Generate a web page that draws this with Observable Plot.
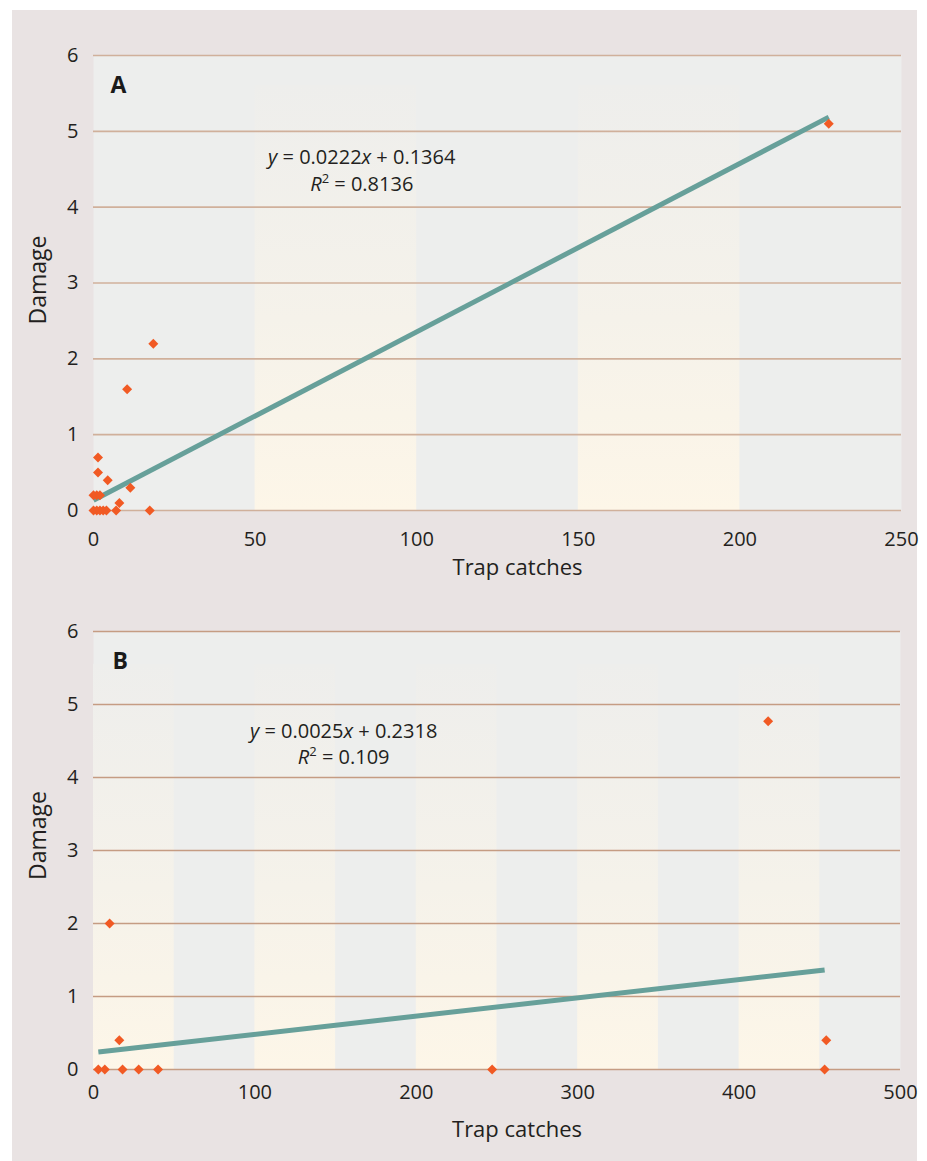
<!DOCTYPE html>
<html><head><meta charset="utf-8">
<script src="https://cdn.jsdelivr.net/npm/d3@7"></script>
<script src="https://cdn.jsdelivr.net/npm/@observablehq/plot@0.6"></script>
<style>
body{margin:0;background:#fff;}
#wrap{position:absolute;left:12px;top:10px;width:905px;height:1151px;background:#e9e3e3;}
#wrap svg{display:block;position:absolute;left:0;}
</style></head><body><div id="wrap"></div>
<script>
// ---- Panel A data ----
const catchesA = [0, 1, 2, 0, 1, 2, 3, 4, 7, 8, 1.4, 1.4, 4.4, 11.4, 10.4, 18.5, 17.4, 227.5];
const damageA  = [0.2, 0.2, 0.2, 0, 0, 0, 0, 0, 0, 0.1, 0.7, 0.5, 0.4, 0.3, 1.6, 2.2, 0, 5.1];
const trendAx  = [0, 227.5];
const trendAy  = [0.136, 5.187];
const ticksAx  = [0, 50, 100, 150, 200, 250];
const bandsA   = [[50, 100], [150, 200]];
const eqA      = ["y = 0.0222x + 0.1364", "R2 = 0.8136"];

// ---- Panel B data ----
const catchesB = [3, 7, 18, 28, 40, 10, 16, 247, 418, 454, 453];
const damageB  = [0, 0, 0, 0, 0, 2, 0.4, 0, 4.77, 0.4, 0];
const trendBx  = [3, 453];
const trendBy  = [0.239, 1.364];
const ticksBx  = [0, 100, 200, 300, 400, 500];
const bandsB   = [[0, 50], [100, 150], [200, 250], [300, 350], [400, 450]];
const eqB      = ["y = 0.0025x + 0.2318", "R2 = 0.109"];

const ticksY = [0, 1, 2, 3, 4, 5, 6];
const FONT = "Open Sans";
const INK = "#231f20";

function panel(o) {
  const pts = o.px.map((x, i) => ({x, y: o.py[i]}));
  const trend = o.tx.map((x, i) => ({x, y: o.ty[i]}));
  const bands = o.bands.map(([a, b]) => ({x1: a, x2: b, y1: 0, y2: o.bandTop}));
  const svg = Plot.plot({
    width: 903, height: o.height,
    marginLeft: 81, marginRight: o.mr, marginTop: o.mt, marginBottom: o.mb,
    style: {fontFamily: FONT, fontSize: "20px", color: INK, background: "transparent", overflow: "visible"},
    x: {domain: o.xDomain, ticks: o.xTicks, tickSize: 0, tickPadding: o.tickPadX, tickFormat: d3.format("d"), label: null},
    y: {domain: [0, 6], ticks: ticksY, tickSize: 0, tickPadding: 15, tickFormat: d3.format("d"), label: null},
    marks: [
      Plot.frame({fill: "#edeeed", stroke: null}),
      Plot.rect(bands, {x1: "x1", x2: "x2", y1: "y1", y2: "y2", fill: `url(#${o.gid})`}),
      Plot.ruleY(ticksY, {stroke: o.grid, strokeWidth: 1.6}),
      Plot.line(trend, {x: "x", y: "y", stroke: "#67a09a", strokeWidth: 5, strokeLinecap: "butt"}),
      Plot.dot(pts, {x: "x", y: "y", symbol: "diamond2", r: 4.5, fill: "#f15a24", stroke: null}),
      Plot.text([o.eq[0]], {x: o.eqX, y: o.eqY[0], text: d => d, fontSize: 20, fill: INK, textAnchor: "middle", lineAnchor: "middle"}),
      Plot.text([o.eq[1]], {x: o.eqX, y: o.eqY[1], text: d => d, fontSize: 20, fill: INK, textAnchor: "middle", lineAnchor: "middle"}),
      Plot.text([o.letter], {frameAnchor: "top-left", dx: o.letterDx, dy: 30, text: d => d, fontSize: 23, fontWeight: "bold", fill: "#1a1a1a", textAnchor: "start", lineAnchor: "middle"}),
      Plot.text(["Trap catches"], {frameAnchor: "bottom", dx: 20, dy: o.xLabelDy, text: d => d, fontSize: 22, fill: INK, textAnchor: "middle", lineAnchor: "middle"}),
      Plot.text(["Damage"], {frameAnchor: "left", dx: -55, dy: o.yLabelDy, rotate: -90, text: d => d, fontSize: 23, fill: INK, textAnchor: "middle", lineAnchor: "middle"})
    ]
  });
  // gradient for the cream bands
  const defs = d3.select(svg).insert("defs", ":first-child");
  const g = defs.append("linearGradient").attr("id", o.gid).attr("x1", 0).attr("y1", 0).attr("x2", 0).attr("y2", 1);
  g.append("stop").attr("offset", "0%").attr("stop-color", "#eeeeec");
  g.append("stop").attr("offset", "55%").attr("stop-color", "#f5f2ea");
  g.append("stop").attr("offset", "100%").attr("stop-color", "#fdf6e8");
  // italic / superscript parts of the equation texts
  d3.select(svg).selectAll("text").each(function() {
    const t = this.textContent;
    const sel = d3.select(this);
    if (t === o.eq[0]) {
      const m = t.match(/^y(.*)x(.*)$/);
      sel.text(null);
      sel.append("tspan").attr("font-style", "italic").text("y");
      sel.append("tspan").text(m[1]);
      sel.append("tspan").attr("font-style", "italic").text("x");
      sel.append("tspan").text(m[2]);
    } else if (t === o.eq[1]) {
      const rest = t.slice(2);
      sel.text(null);
      sel.append("tspan").attr("font-style", "italic").text("R");
      sel.append("tspan").attr("font-size", "13px").attr("dy", -8).text("2");
      sel.append("tspan").attr("dy", 8).text(rest);
    }
  });
  svg.style.top = o.top + "px";
  return svg;
}

const wrap = document.getElementById("wrap");
wrap.appendChild(panel({
  px: catchesA, py: damageA, tx: trendAx, ty: trendAy, bands: bandsA, bandTop: 5.6,
  xDomain: [0, 250], xTicks: ticksAx, eq: eqA, eqX: 83, eqY: [4.66, 4.30],
  letter: "A", letterDx: 17, grid: "#d0b09b", gid: "gradA",
  top: 0, height: 590, mt: 45, mb: 90, mr: 14, tickPadX: 21, xLabelDy: 57, yLabelDy: -3
}));
wrap.appendChild(panel({
  px: catchesB, py: damageB, tx: trendBx, ty: trendBy, bands: bandsB, bandTop: 5.55,
  xDomain: [0, 500], xTicks: ticksBx, eq: eqB, eqX: 155, eqY: [4.63, 4.27],
  letter: "B", letterDx: 19, grid: "#c59c83", gid: "gradB",
  top: 590, height: 561, mt: 31, mb: 92, mr: 15, tickPadX: 15, xLabelDy: 60, yLabelDy: -15
}));
</script>
</body></html>
